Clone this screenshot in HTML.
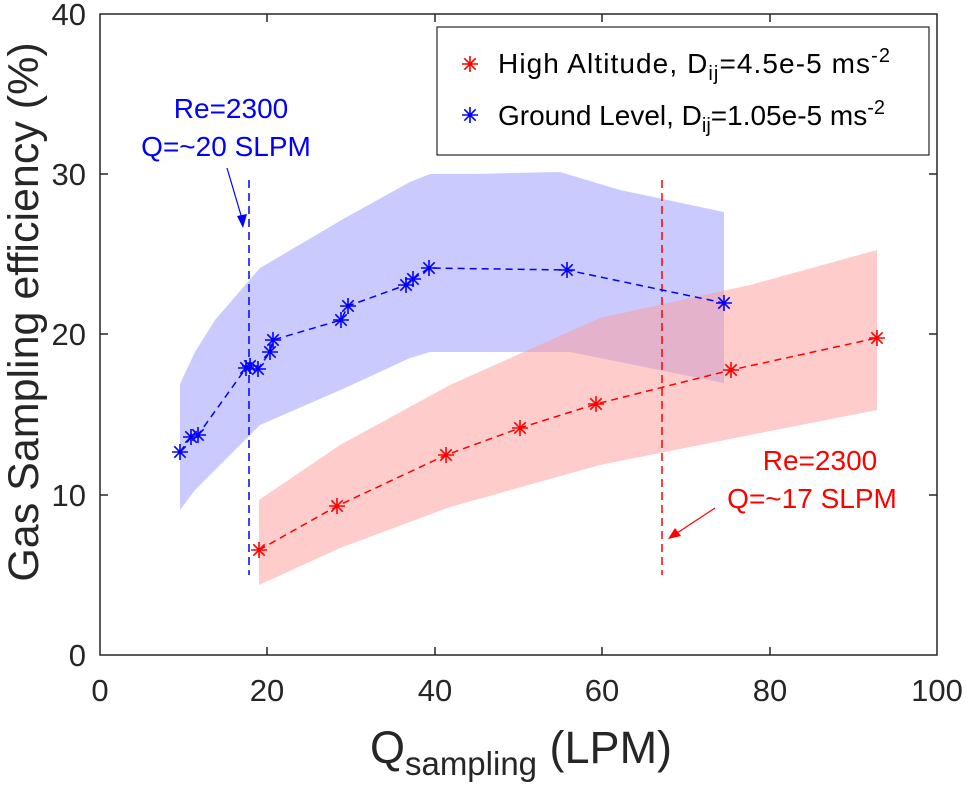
<!DOCTYPE html>
<html><head><meta charset="utf-8"><style>body{margin:0;background:#fff}svg{display:block}</style></head><body>
<svg width="971" height="790" viewBox="0 0 971 790" xmlns="http://www.w3.org/2000/svg" font-family="Liberation Sans, Arial, sans-serif">
<defs>
<path id="st" d="M-8,0H8M0,-8V8M-5.7,-5.7L5.7,5.7M-5.7,5.7L5.7,-5.7" stroke-width="1.6"/>
</defs>
<rect width="971" height="790" fill="#fff"/>
<polygon fill="#aaaaff" fill-opacity="0.62" points="180,384 195,352 215,320 260,268 345,218 410,182 430,174 470,174 560,172 620,190 724,212 724,383 570,352 430,352 410,358 345,388 260,425 195,490 180,510"/>
<polygon fill="#ff9999" fill-opacity="0.5" points="259,500 340,445 450,385 600,318 750,285 877,250 877,410 750,435 600,465 450,507 340,548 259,585"/>
<line x1="249" y1="180" x2="249" y2="575" stroke="#0000ff" stroke-width="1.5" stroke-dasharray="8,5"/>
<line x1="662" y1="180" x2="662" y2="575" stroke="#ff0000" stroke-width="1.5" stroke-dasharray="8,5"/>
<polyline fill="none" stroke="#0000ff" stroke-width="1.5" stroke-dasharray="7,5" points="180,452 191,437 198,435 246,368 250,366 258,369 270,352 273,340 341,320 348,306 406,285 413,279 429,268 567,270 724,303"/>
<polyline fill="none" stroke="#ff0000" stroke-width="1.5" stroke-dasharray="7,5" points="259,550 337,506 446,455 520,428 596,404 731,370 877,338"/>
<g stroke="#0000ff">
<use href="#st" x="180" y="452"/><use href="#st" x="191" y="437"/><use href="#st" x="198" y="435"/><use href="#st" x="246" y="368"/><use href="#st" x="250" y="366"/><use href="#st" x="258" y="369"/><use href="#st" x="270" y="352"/><use href="#st" x="273" y="340"/><use href="#st" x="341" y="320"/><use href="#st" x="348" y="306"/><use href="#st" x="406" y="285"/><use href="#st" x="413" y="279"/><use href="#st" x="429" y="268"/><use href="#st" x="567" y="270"/><use href="#st" x="724" y="303"/>
</g>
<g stroke="#ff0000">
<use href="#st" x="259" y="550"/><use href="#st" x="337" y="506"/><use href="#st" x="446" y="455"/><use href="#st" x="520" y="428"/><use href="#st" x="596" y="404"/><use href="#st" x="731" y="370"/><use href="#st" x="877" y="338"/>
</g>
<text x="231" y="118" font-size="28" fill="#0000ff" text-anchor="middle">Re=2300</text>
<text x="226" y="156" font-size="28" fill="#0000ff" text-anchor="middle">Q=~20 SLPM</text>
<line x1="227" y1="168" x2="243" y2="222" stroke="#0000ff" stroke-width="1.2"/>
<polygon points="243,228 237,216 247,214" fill="#0000ff"/>
<text x="820" y="470" font-size="28" fill="#ff0000" text-anchor="middle">Re=2300</text>
<text x="812" y="508" font-size="28" fill="#ff0000" text-anchor="middle">Q=~17 SLPM</text>
<line x1="715" y1="508" x2="674" y2="535" stroke="#ff0000" stroke-width="1.2"/>
<polygon points="668,539 675,528 681,536" fill="#ff0000"/>
<rect x="100" y="14" width="837" height="641" fill="none" stroke="#262626" stroke-width="1.5"/>
<g stroke="#262626" stroke-width="1.5">
<line x1="267" y1="655" x2="267" y2="647"/><line x1="435" y1="655" x2="435" y2="647"/><line x1="602" y1="655" x2="602" y2="647"/><line x1="770" y1="655" x2="770" y2="647"/>
<line x1="267" y1="14" x2="267" y2="22"/><line x1="435" y1="14" x2="435" y2="22"/><line x1="602" y1="14" x2="602" y2="22"/><line x1="770" y1="14" x2="770" y2="22"/>
<line x1="100" y1="495" x2="108" y2="495"/><line x1="100" y1="334" x2="108" y2="334"/><line x1="100" y1="174" x2="108" y2="174"/>
<line x1="937" y1="495" x2="929" y2="495"/><line x1="937" y1="334" x2="929" y2="334"/><line x1="937" y1="174" x2="929" y2="174"/>
</g>
<g font-size="31" fill="#262626" text-anchor="middle">
<text x="100" y="701">0</text><text x="267" y="701">20</text><text x="435" y="701">40</text><text x="602" y="701">60</text><text x="770" y="701">80</text><text x="937" y="701">100</text>
</g>
<g font-size="31" fill="#262626" text-anchor="end">
<text x="86" y="666">0</text><text x="86" y="506">10</text><text x="86" y="345">20</text><text x="86" y="185">30</text><text x="86" y="25">40</text>
</g>
<text x="521" y="763" font-size="45" fill="#262626" text-anchor="middle">Q<tspan font-size="33" dy="12">sampling</tspan><tspan dy="-12"> (LPM)</tspan></text>
<text transform="translate(38,312) rotate(-90)" font-size="43" fill="#262626" text-anchor="middle">Gas Sampling efficiency (%)</text>
<rect x="437" y="27" width="492" height="128" fill="#fff" stroke="#262626" stroke-width="1.2"/>
<use href="#st" x="470" y="64" stroke="#ff0000"/>
<use href="#st" x="470" y="115" stroke="#0000ff"/>
<text x="498" y="73" font-size="28" fill="#000" textLength="392">High Altitude, D<tspan font-size="20" dy="7">ij</tspan><tspan dy="-7">=4.5e-5 ms</tspan><tspan font-size="20" dy="-11">-2</tspan></text>
<text x="498" y="125" font-size="28" fill="#000">Ground Level, D<tspan font-size="20" dy="7">ij</tspan><tspan dy="-7">=1.05e-5 ms</tspan><tspan font-size="20" dy="-11">-2</tspan></text>
</svg>
</body></html>
